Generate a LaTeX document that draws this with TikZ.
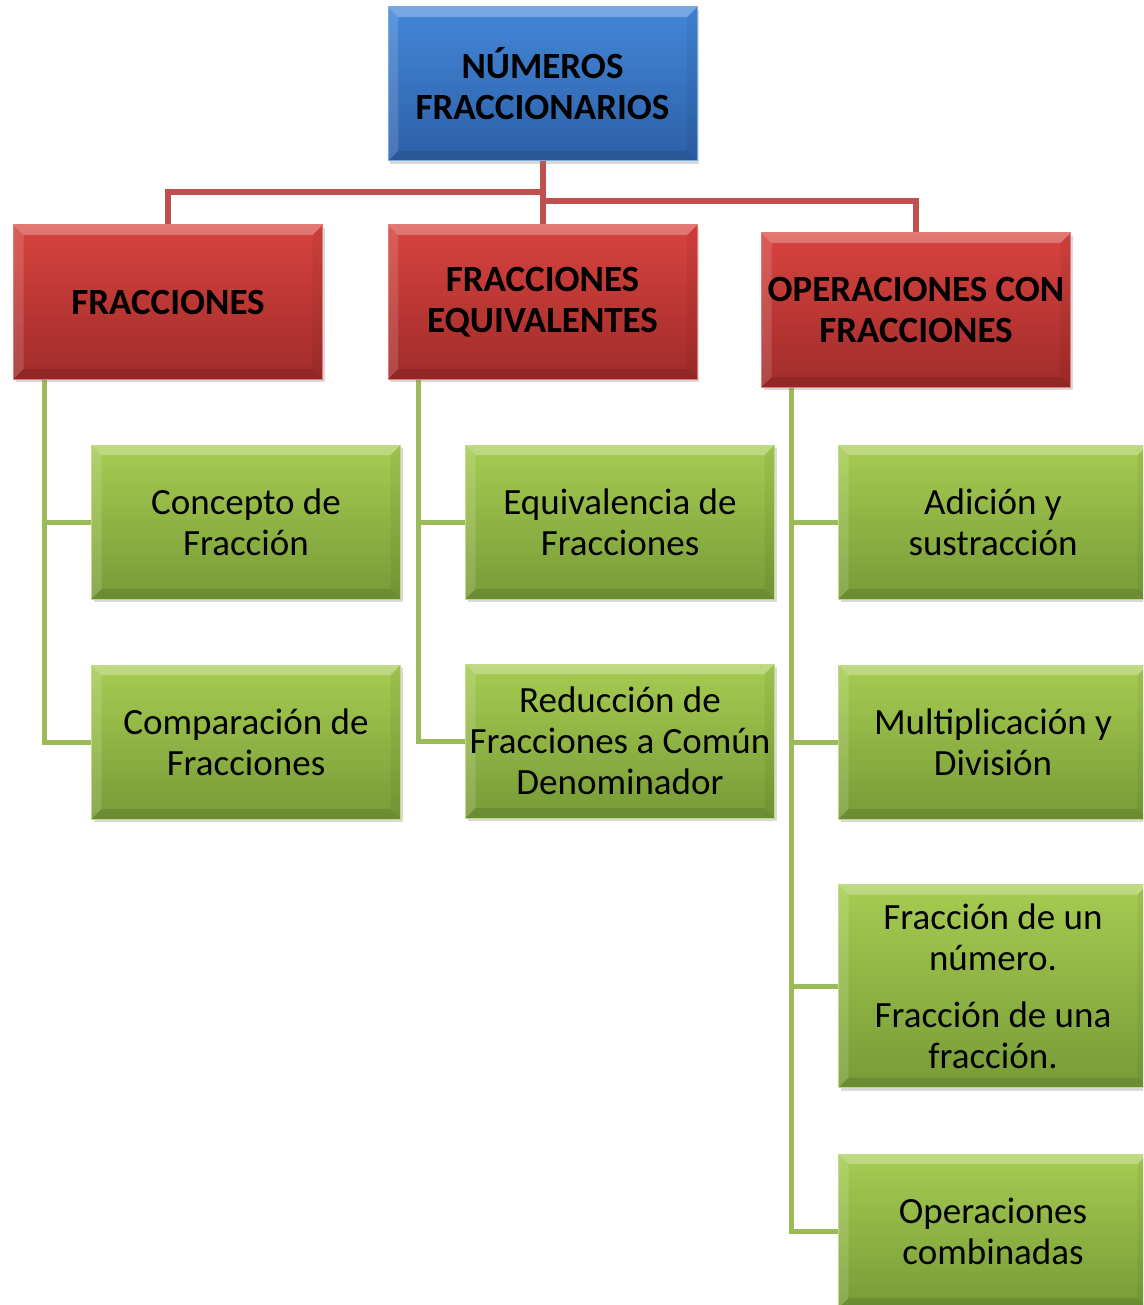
\documentclass[tikz,border=0pt]{standalone}
\usepackage{fontspec}
\setmainfont{Carlito}
\usetikzlibrary{shadows,backgrounds}
\definecolor{bluetop}{HTML}{4387D7}
\definecolor{bluebot}{HTML}{2D5FA7}
\definecolor{redtop}{HTML}{D8433F}
\definecolor{redbot}{HTML}{A02C2A}
\definecolor{greentop}{HTML}{A6CC52}
\definecolor{greenbot}{HTML}{779B37}
\definecolor{redline}{HTML}{C0504D}
\definecolor{greenline}{HTML}{9BBB59}
\tikzset{
  bevel/.style={path picture={
    \coordinate (bnw) at (path picture bounding box.north west);
    \coordinate (bne) at (path picture bounding box.north east);
    \coordinate (bsw) at (path picture bounding box.south west);
    \coordinate (bse) at (path picture bounding box.south east);
    \fill[white,opacity=.28] (bnw) -- (bne) -- ([shift={(-10pt,-10pt)}]bne) -- ([shift={(10pt,-10pt)}]bnw) -- cycle;
    \fill[white,opacity=.14] (bnw) -- ([shift={(10pt,-10pt)}]bnw) -- ([shift={(10pt,10pt)}]bsw) -- (bsw) -- cycle;
    \fill[black,opacity=.05] (bne) -- ([shift={(-10pt,-10pt)}]bne) -- ([shift={(-10pt,10pt)}]bse) -- (bse) -- cycle;
    \fill[black,opacity=.10] (bsw) -- ([shift={(10pt,10pt)}]bsw) -- ([shift={(-10pt,10pt)}]bse) -- (bse) -- cycle;
  }},
  basebox/.style={rectangle, minimum width=309pt, minimum height=154pt, inner sep=0pt,
    align=center, text=black, bevel,
    drop shadow={opacity=0.3, shadow xshift=2pt, shadow yshift=-3pt},
    font=\fontsize{37}{41}\selectfont},
  bluebox/.style={basebox, top color=bluetop, bottom color=bluebot, draw=bluetop!70!white, line width=1pt, font=\fontsize{37}{41}\selectfont\bfseries},
  redbox/.style={basebox, top color=redtop, bottom color=redbot, draw=redtop!70!white, line width=1pt, font=\fontsize{37}{41}\selectfont\bfseries},
  greenbox/.style={basebox, top color=greentop, bottom color=greenbot, draw=greentop!70!white, line width=1pt},
  redconn/.style={draw=redline, line width=6pt},
  greenconn/.style={draw=greenline, line width=5pt},
}
\begin{document}
\begin{tikzpicture}[x=1pt,y=-1pt]
\useasboundingbox (0,0) rectangle (1143,1305);
\clip (0,0) rectangle (1143,1305);
% top
\node[bluebox] (top) at (542.5,84) {NÚMEROS\\FRACCIONARIOS};
% level 1
\node[redbox] (fr) at (168,302) {FRACCIONES};
\node[redbox] (eq) at (542.5,302) {FRACCIONES\\EQUIVALENTES};
\node[redbox] (op) at (916,310) {OPERACIONES CON\\FRACCIONES};
% level 2
\node[greenbox] (conc) at (246,522) {Concepto de\\Fracción};
\node[greenbox] (comp) at (246,742) {Comparación de\\Fracciones};
\node[greenbox] (equiv) at (620,522) {Equivalencia de\\Fracciones};
\node[greenbox] (red) at (620,741) {Reducción de\\Fracciones a Común\\Denominador};
\node[greenbox] (adi) at (993,522) {Adición y\\sustracción};
\node[greenbox] (mul) at (993,742) {Multiplicación y\\División};
\node[greenbox, minimum height=203pt] (frn) at (993,986) {Fracción de un\\número.\\[16pt]Fracción de una\\fracción.};
\node[greenbox] (comb) at (993,1231) {Operaciones\\combinadas};
% connectors
\begin{scope}[on background layer]
\draw[redconn] (top.south) -- (eq.north);
\draw[redconn] ([yshift=-31pt]top.south) -| (fr.north);
\draw[redconn] ([yshift=-40pt]top.south) -| (op.north);
\draw[greenconn] ([xshift=31pt]fr.south west) |- (conc.west);
\draw[greenconn] ([xshift=31pt]fr.south west) |- (comp.west);
\draw[greenconn] ([xshift=31pt]eq.south west) |- (equiv.west);
\draw[greenconn] ([xshift=31pt]eq.south west) |- (red.west);
\draw[greenconn] ([xshift=30pt]op.south west) |- (adi.west);
\draw[greenconn] ([xshift=30pt]op.south west) |- (mul.west);
\draw[greenconn] ([xshift=30pt]op.south west) |- (frn.west);
\draw[greenconn] ([xshift=30pt]op.south west) |- (comb.west);
\end{scope}
\end{tikzpicture}
\end{document}
